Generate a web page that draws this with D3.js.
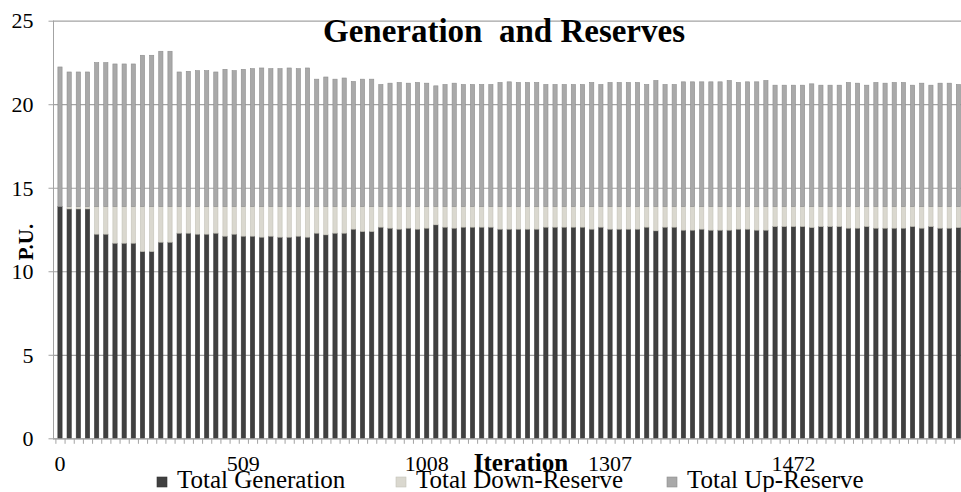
<!DOCTYPE html>
<html>
<head>
<meta charset="utf-8">
<script src="https://cdn.jsdelivr.net/npm/d3@7"></script>
<style>
  body { margin: 0; background: #fff; }
  svg { display: block; }
  text { font-family: "Liberation Serif", "Times New Roman", serif; fill: #000; }
</style>
</head>
<body>
<div id="my_dataviz"></div>
<script>
// values, one entry per bar (99 bars)
const generation = [
  13.87, 13.73, 13.73, 13.73, 12.22, 12.22, 11.68, 11.68, 11.68, 11.18,
  11.18, 11.74, 11.74, 12.28, 12.28, 12.22, 12.22, 12.28, 12.10, 12.22,
  12.10, 12.10, 12.04, 12.10, 12.04, 12.04, 12.10, 12.04, 12.28, 12.18,
  12.28, 12.28, 12.52,
  12.38, 12.38, 12.64, 12.58, 12.52, 12.58, 12.52, 12.58, 12.78, 12.64,
  12.58, 12.64, 12.64, 12.64, 12.64, 12.52, 12.52, 12.52, 12.52, 12.52,
  12.64, 12.64, 12.64, 12.64, 12.64, 12.52, 12.64, 12.52, 12.52, 12.52,
  12.52, 12.64,
  12.42, 12.64, 12.64, 12.46, 12.46, 12.52, 12.46, 12.46, 12.46, 12.52,
  12.52, 12.46, 12.46, 12.68, 12.68, 12.68, 12.68, 12.62, 12.68, 12.68,
  12.68, 12.58, 12.58, 12.68, 12.58, 12.58, 12.58, 12.58, 12.68, 12.58,
  12.68, 12.58, 12.58, 12.62
];
const downReserve = [
  0.00, 0.14, 0.14, 0.14, 1.65, 1.65, 2.19, 2.19, 2.19, 2.69,
  2.69, 2.13, 2.13, 1.59, 1.59, 1.65, 1.65, 1.59, 1.77, 1.65,
  1.77, 1.77, 1.83, 1.77, 1.83, 1.83, 1.77, 1.83, 1.59, 1.69,
  1.59, 1.59, 1.35,
  1.49, 1.49, 1.23, 1.29, 1.35, 1.29, 1.35, 1.29, 1.09, 1.23,
  1.29, 1.23, 1.23, 1.23, 1.23, 1.35, 1.35, 1.35, 1.35, 1.35,
  1.23, 1.23, 1.23, 1.23, 1.23, 1.35, 1.23, 1.35, 1.35, 1.35,
  1.35, 1.23,
  1.45, 1.23, 1.23, 1.41, 1.41, 1.35, 1.41, 1.41, 1.41, 1.35,
  1.35, 1.41, 1.41, 1.19, 1.19, 1.19, 1.19, 1.25, 1.19, 1.19,
  1.19, 1.29, 1.29, 1.19, 1.29, 1.29, 1.29, 1.29, 1.19, 1.29,
  1.19, 1.29, 1.29, 1.25
];
const upReserve = [
  8.36, 8.06, 8.06, 8.06, 8.62, 8.62, 8.54, 8.54, 8.54, 9.06,
  9.06, 9.30, 9.30, 8.06, 8.10, 8.14, 8.14, 8.06, 8.22, 8.14,
  8.22, 8.26, 8.30, 8.26, 8.26, 8.30, 8.26, 8.30, 7.63, 7.76,
  7.63, 7.70, 7.49,
  7.63, 7.63, 7.31, 7.39, 7.43, 7.39, 7.43, 7.39, 7.23, 7.31,
  7.39, 7.31, 7.31, 7.31, 7.31, 7.43, 7.47, 7.43, 7.43, 7.43,
  7.31, 7.31, 7.31, 7.31, 7.31, 7.43, 7.31, 7.43, 7.43, 7.43,
  7.43, 7.31,
  7.55, 7.31, 7.31, 7.47, 7.47, 7.47, 7.47, 7.47, 7.55, 7.43,
  7.47, 7.47, 7.55, 7.27, 7.27, 7.27, 7.27, 7.35, 7.27, 7.27,
  7.27, 7.43, 7.39, 7.27, 7.43, 7.39, 7.43, 7.43, 7.27, 7.39,
  7.27, 7.39, 7.39, 7.31
];

// only every 20th bar carries an iteration label
const tickBars = [0, 20, 40, 60, 80];
const tickLabels = ["0", "509", "1008", "1307", "1472"];
const yTicks = [0, 5, 10, 15, 20, 25];

const seriesNames = ["Total Generation", "Total Down-Reserve", "Total Up-Reserve"];
const seriesColors = ["#404040", "#dad8cf", "#a9a9a9"];
const seriesStrokes = ["#333333", "#c4c2b8", "#8e8e8e"];

var SERIF = "'Liberation Serif', 'Times New Roman', serif";
var W = 961, H = 492;
var plot = { left: 55.4, right: 963, top: 20.7, bottom: 438.3 };

var svg = d3.select("#my_dataviz")
  .append("svg")
  .attr("width", W)
  .attr("height", H);

var rows = generation.map((g, i) => ({
  bar: i,
  "Total Generation": g,
  "Total Down-Reserve": downReserve[i],
  "Total Up-Reserve": upReserve[i]
}));

var x = d3.scaleBand()
  .domain(rows.map(d => d.bar))
  .range([plot.left, plot.right])
  .paddingInner(0.54)
  .paddingOuter(0.27);

var y = d3.scaleLinear()
  .domain([0, 25])
  .range([plot.bottom, plot.top]);

// gridlines
svg.append("g")
  .attr("transform", "translate(53,0)")
  .call(d3.axisLeft(y).tickValues(yTicks).tickSize(-(W - 53)).tickFormat(""))
  .call(g => g.select(".domain").remove())
  .call(g => g.selectAll("line").attr("stroke", "#a3a3a3").attr("stroke-width", 1.2));

// stacked bars
var stack = d3.stack().keys(seriesNames);
var layers = stack(rows);

svg.append("g")
  .selectAll("g")
  .data(layers)
  .enter()
  .append("g")
    .attr("fill", (d, i) => seriesColors[i])
    .attr("stroke", (d, i) => seriesStrokes[i])
    .attr("stroke-width", 0.6)
  .selectAll("rect")
  .data(d => d)
  .enter()
  .append("rect")
    .attr("x", d => x(d.data.bar))
    .attr("width", x.bandwidth())
    .attr("y", d => y(d[1]))
    .attr("height", d => Math.max(0, y(d[0]) - y(d[1])));

// y axis
svg.append("g")
  .attr("transform", "translate(53.5,0)")
  .call(d3.axisLeft(y).tickValues(yTicks).tickSize(5).tickPadding(15))
  .call(g => g.select(".domain").attr("stroke", "#a3a3a3").attr("d", `M0,${plot.top}V${plot.bottom}`))
  .call(g => g.selectAll("line").attr("stroke", "#a3a3a3"))
  .call(g => g.selectAll("text")
    .style("font-family", SERIF)
    .style("font-size", "22px")
    .attr("dy", "0.33em"));

// x axis line with a tick at every category boundary
var xEdges = d3.scaleLinear().domain([0, rows.length]).range([plot.left, plot.right]);
svg.append("g")
  .attr("transform", "translate(0," + (plot.bottom + 0.5) + ")")
  .call(d3.axisBottom(xEdges).tickValues(d3.range(rows.length + 1)).tickSize(5).tickFormat(""))
  .call(g => g.select(".domain").attr("stroke", "#a3a3a3").attr("d", `M53,0H${W}`))
  .call(g => g.selectAll("line").attr("stroke", "#a3a3a3"));

// iteration labels
svg.append("g")
  .attr("transform", "translate(0," + plot.bottom + ")")
  .call(d3.axisBottom(x).tickValues(tickBars).tickSize(0).tickPadding(0)
    .tickFormat(d => tickLabels[tickBars.indexOf(d)]))
  .call(g => g.select(".domain").remove())
  .call(g => g.selectAll("text")
    .attr("y", 33)
    .attr("dy", 0)
    .style("font-family", SERIF)
    .style("font-size", "22px"));

// title and axis names
svg.append("text")
  .attr("x", 504)
  .attr("y", 42)
  .attr("text-anchor", "middle")
  .style("font-size", "33px")
  .style("font-weight", "bold")
  .style("white-space", "pre")
  .text("Generation  and Reserves");

svg.append("text")
  .attr("x", 521)
  .attr("y", 471)
  .attr("text-anchor", "middle")
  .style("font-size", "25px")
  .style("font-weight", "bold")
  .text("Iteration");

svg.append("text")
  .attr("transform", "translate(33,242) rotate(-90)")
  .attr("text-anchor", "middle")
  .style("font-size", "21px")
  .style("font-weight", "bold")
  .text("P.U.");

// legend
var legendX = [157, 396, 667];
var legend = svg.append("g");
seriesNames.forEach((name, i) => {
  legend.append("rect")
    .attr("x", legendX[i])
    .attr("y", 477)
    .attr("width", 10)
    .attr("height", 10)
    .attr("fill", seriesColors[i])
    .attr("stroke", seriesStrokes[i])
    .attr("stroke-width", 0.6);
  legend.append("text")
    .attr("x", legendX[i] + 20)
    .attr("y", 488)
    .style("font-size", "25px")
    .text(name);
});
</script>
</body>
</html>
